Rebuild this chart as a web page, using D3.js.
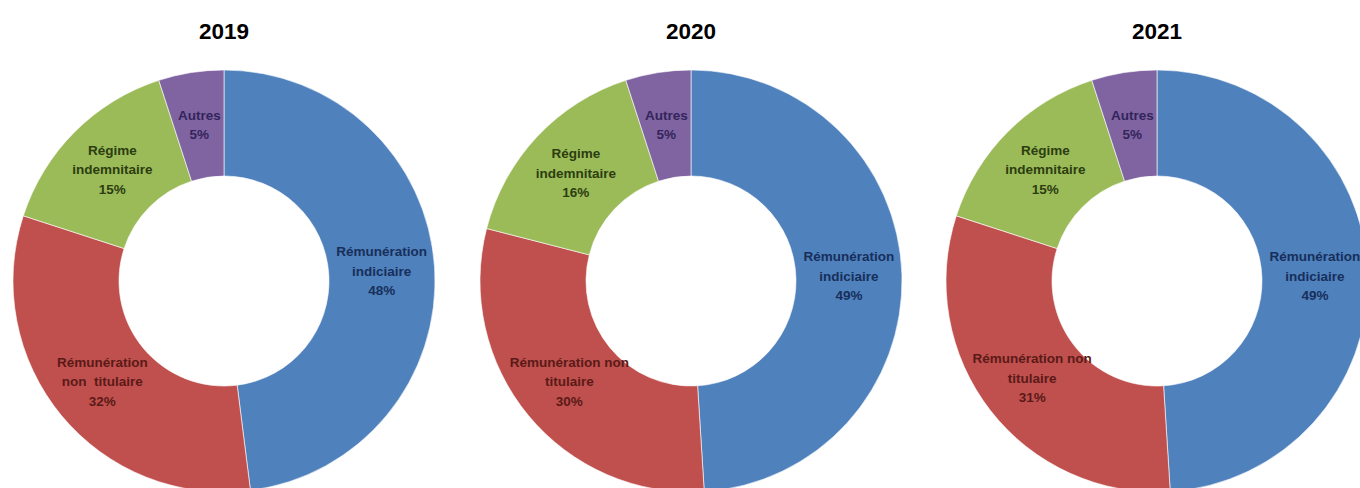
<!DOCTYPE html>
<html lang="fr">
<head>
<meta charset="utf-8">
<script src="https://cdn.jsdelivr.net/npm/d3@7"></script>
<style>
  html, body { margin: 0; padding: 0; background: #ffffff; }
  svg { display: block; }
</style>
</head>
<body>
<svg id="chart" width="1360" height="488"></svg>
<script>
// Répartition des rémunérations par année (parts en %)
const years = ["2019", "2020", "2021"];
const categories = ["Rémunération indiciaire", "Rémunération non titulaire", "Régime indemnitaire", "Autres"];
const values2019 = [48, 32, 15, 5];
const values2020 = [49, 30, 16, 5];
const values2021 = [49, 31, 15, 5];
const seriesValues = [values2019, values2020, values2021];

// Libellés découpés en lignes, tels qu'affichés dans chaque anneau
const labelLines2019 = [["Rémunération", "indiciaire"], ["Rémunération", "non  titulaire"], ["Régime", "indemnitaire"], ["Autres"]];
const labelLines2020 = [["Rémunération", "indiciaire"], ["Rémunération non", "titulaire"], ["Régime", "indemnitaire"], ["Autres"]];
const labelLines2021 = [["Rémunération", "indiciaire"], ["Rémunération non", "titulaire"], ["Régime", "indemnitaire"], ["Autres"]];
const labelLines = [labelLines2019, labelLines2020, labelLines2021];

const sliceColors = ["#4F81BD", "#C0504D", "#9BBB59", "#8064A2"];
const labelColors = ["#172f5a", "#5a1a18", "#2c3d10", "#33245a"];

const svg = d3.select("#chart");
const centersX = [224, 691, 1157];
const centerY = 281;
const outerR = 211;
const innerR = 105;

const pie = d3.pie().sort(null).value(d => d);
const arc = d3.arc().innerRadius(innerR).outerRadius(outerR);
const color = d3.scaleOrdinal().domain(categories).range(sliceColors);
const textColor = d3.scaleOrdinal().domain(categories).range(labelColors);

years.forEach((year, yi) => {
  const g = svg.append("g").attr("transform", `translate(${centersX[yi]},${centerY})`);
  const arcs = pie(seriesValues[yi]);

  g.selectAll("path.slice")
    .data(arcs)
    .join("path")
    .attr("class", "slice")
    .attr("d", arc)
    .attr("fill", (d, i) => color(categories[i]))
    .attr("stroke", "#ffffff")
    .attr("stroke-width", 0.6);

  const lineH = 19.5;
  g.selectAll("text.lbl")
    .data(arcs)
    .join("text")
    .attr("class", "lbl")
    .attr("text-anchor", "middle")
    .attr("font-family", "'Liberation Sans', Arial, sans-serif")
    .attr("font-weight", "bold")
    .attr("font-size", 13.5)
    .attr("fill", (d, i) => textColor(categories[i]))
    .each(function (d, i) {
      const [cx, cy] = arc.centroid(d);
      const lines = labelLines[yi][i].concat([d.data + "%"]);
      const top = cy - (lines.length - 1) * lineH / 2;
      d3.select(this).selectAll("tspan")
        .data(lines)
        .join("tspan")
        .attr("x", cx)
        .attr("y", (l, k) => top + k * lineH)
        .attr("dy", "0.35em")
        .attr("xml:space", "preserve")
        .text(l => l);
    });

  svg.append("text")
    .attr("x", centersX[yi])
    .attr("y", 39)
    .attr("text-anchor", "middle")
    .attr("font-family", "'Liberation Sans', Arial, sans-serif")
    .attr("font-weight", "bold")
    .attr("font-size", 22.5)
    .attr("fill", "#000000")
    .text(year);
});
</script>
</body>
</html>
